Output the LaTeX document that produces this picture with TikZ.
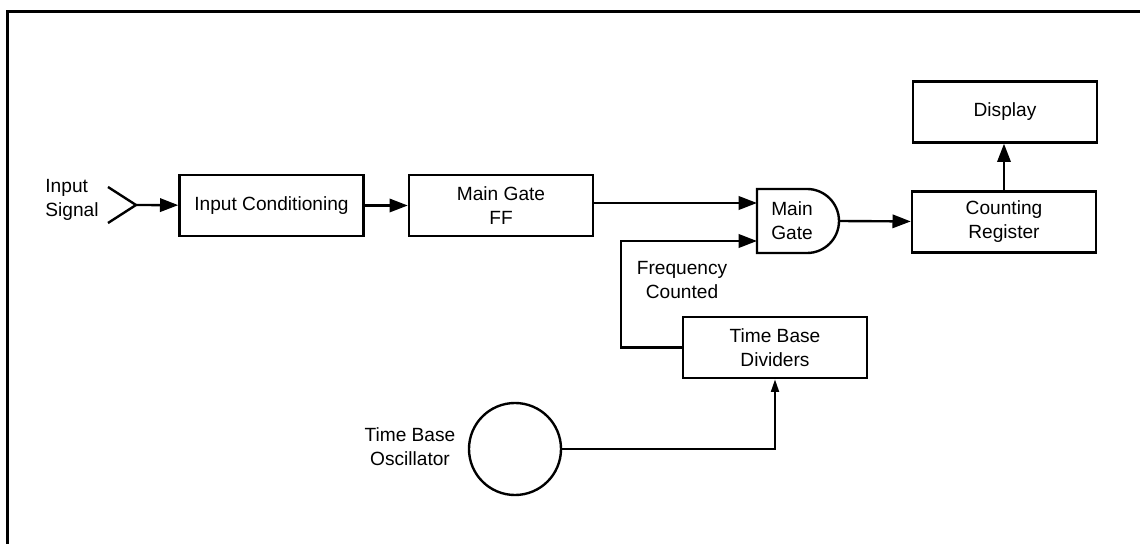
\documentclass[tikz,border=0pt]{standalone}
\usepackage{fontspec}
\setmainfont{Liberation Sans}
\usetikzlibrary{arrows.meta}
\begin{document}
\begin{tikzpicture}[x=0.025cm, y=-0.025cm, line width=1.7pt,
  every node/.style={font=\fontsize{13.6}{17}\selectfont},
  box/.style={draw, minimum width=4.6cm, minimum height=1.525cm, inner sep=0pt, align=center},
  lbl/.style={align=center},
  >={Triangle[length=13pt,width=9.5pt]},
  small/.style={-{Triangle[length=9pt,width=5.5pt]}}]
  \useasboundingbox (0,0) rectangle (1140,544);
  \draw[line width=2pt] (7.5,544) -- (7.5,11.5) -- (1140,11.5);
  % blocks
  \node[box] (ic) at (271.5,205.5) {Input Conditioning};
  \node[box] (ff) at (501,205.5) {Main Gate\\FF};
  \node[box] (cr) at (1004,222) {Counting\\Register};
  \node[box] (disp) at (1005,112) {Display};
  \node[box] (tbd) at (775,347.5) {Time Base\\Dividers};
  \node[minimum width=2.05cm, minimum height=1.6cm, inner sep=0pt, outer sep=0pt] (gate) at (798,221) {};
  \node[lbl] at (792,221) {Main\\Gate};
  \draw (gate.north west) -- ++(50,0) arc[start angle=90, end angle=-90, radius=0.8cm] -- ++(-50,0) -- cycle;
  \node[circle, draw, minimum size=2.3cm, inner sep=0pt] (osc) at (515,449) {};
  % labels
  \node[align=left] (insig) at (72,200) {Input\\Signal};
  \node[lbl] (osclbl) at (410,447) {Time Base\\Oscillator};
  \node[lbl] (freq) at (682,280) {Frequency\\Counted};
  % connectors
  \coordinate (in) at (136,205);
  \coordinate (g1) at (757,203);
  \coordinate (g2) at (757,241);
  \draw (108,187) -- (in) -- (108,223);
  \draw[->] (in) -- (ic);
  \draw[->] (ic) -- (ff);
  \draw[->] (g1 -| ff.east) -- (g1);
  \draw[->] (tbd.west) -- ++(-61,0) |- (g2);
  \draw[->] (gate.east) -- (cr);
  \draw[->] (cr.north) -- (cr.north |- disp.south);
  \draw[small] (osc.east) -| (tbd.south);
\end{tikzpicture}
\end{document}
